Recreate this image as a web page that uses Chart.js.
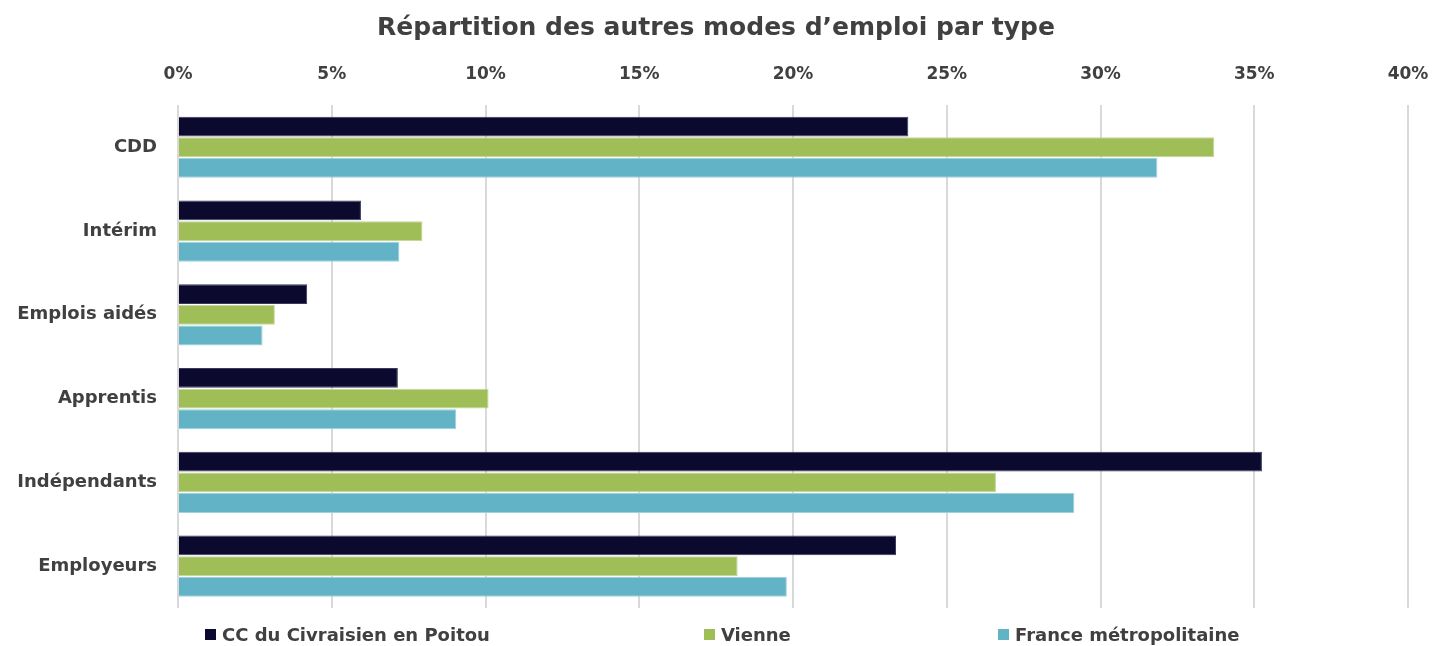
<!DOCTYPE html>
<html>
<head>
<meta charset="utf-8">
<script src="https://cdn.jsdelivr.net/npm/chart.js@4.4.0/dist/chart.umd.min.js"></script>
<style>
  html, body { margin: 0; padding: 0; background: #fff; }
  #wrap { position: relative; width: 1432px; height: 646px; overflow: hidden; }
  #legend { position: absolute; left: 0; top: 624px; width: 1432px; height: 22px;
            font-family: 'DejaVu Sans', sans-serif; font-weight: bold; font-size: 18px; color: #404040; }
  #legend span.item { position: absolute; top: 0; white-space: nowrap; }
  #legend i { display: inline-block; width: 11px; height: 11px; margin-right: 6px; vertical-align: 1px; }
</style>
</head>
<body>
<div id="wrap">
  <canvas id="myChart" width="1432" height="646"></canvas>
  <div id="legend"></div>
</div>
<script>
// categories and series (in %)
var categories = ['CDD', 'Intérim', 'Emplois aidés', 'Apprentis', 'Indépendants', 'Employeurs'];
var civraisien = [23.75, 5.95, 4.2, 7.15, 35.25, 23.35];
var vienne     = [33.7, 7.95, 3.15, 10.1, 26.6, 18.2];
var france     = [31.85, 7.2, 2.75, 9.05, 29.15, 19.8];
var seriesNames = ['CC du Civraisien en Poitou', 'Vienne', 'France métropolitaine'];
var tickLabels = ['0%', '5%', '10%', '15%', '20%', '25%', '30%', '35%', '40%'];

var FONT = "'DejaVu Sans', sans-serif";
var TEXT = '#404040';
var colors = ['#0b0a2e', '#9fbe57', '#63b3c7'];
var edges = ['#3a3960', '#c3d89a', '#9fd2de'];

function buildLegend() {
    // same spread-out placement as the original legend row
    var lefts = [205, 704, 998];
    var html = '';
    for (var i = 0; i < seriesNames.length; i++) {
        html += '<span class="item" style="left:' + lefts[i] + 'px"><i style="background:' + colors[i] + '"></i>' + seriesNames[i] + '</span>';
    }
    document.getElementById('legend').innerHTML = html;
}

function renderChart() {
    var ctx = document.getElementById('myChart').getContext('2d');

    var myChart = new Chart(ctx, {
        type: 'bar',
        data: {
            labels: categories,
            datasets: [
                { label: seriesNames[0], data: civraisien, backgroundColor: colors[0], borderColor: edges[0], borderWidth: 1 },
                { label: seriesNames[1], data: vienne, backgroundColor: colors[1], borderColor: edges[1], borderWidth: 1 },
                { label: seriesNames[2], data: france, backgroundColor: colors[2], borderColor: edges[2], borderWidth: 1 }
            ]
        },
        options: {
            indexAxis: 'y',
            responsive: false,
            animation: false,
            datasets: {
                bar: { categoryPercentage: 0.74, barPercentage: 0.96 }
            },
            layout: { padding: { left: 0, right: 0, top: 0, bottom: 38 } },
            scales: {
                x: {
                    position: 'top',
                    min: 0,
                    max: 40,
                    afterFit: function(scale) {
                        scale.paddingLeft = 0;
                        scale.paddingRight = 24;
                    },
                    ticks: {
                        stepSize: 5,
                        padding: 21,
                        color: TEXT,
                        font: { family: FONT, size: 17, weight: 'bold' },
                        callback: function(v, i) { return tickLabels[i]; }
                    },
                    grid: { color: '#d9d9d9', lineWidth: 2, drawTicks: false },
                    border: { display: false }
                },
                y: {
                    afterFit: function(scale) { scale.width = 178; },
                    ticks: {
                        padding: 13,
                        color: TEXT,
                        font: { family: FONT, size: 18, weight: 'bold' }
                    },
                    grid: { display: false },
                    border: { display: false }
                }
            },
            plugins: {
                title: {
                    display: true,
                    text: 'Répartition des autres modes d’emploi par type',
                    color: TEXT,
                    font: { family: FONT, size: 25, weight: 'bold' },
                    padding: { top: 13, bottom: 0 }
                },
                legend: { display: false },
                tooltip: { enabled: false }
            }
        }
    });
}

buildLegend();
renderChart();
</script>
</body>
</html>
